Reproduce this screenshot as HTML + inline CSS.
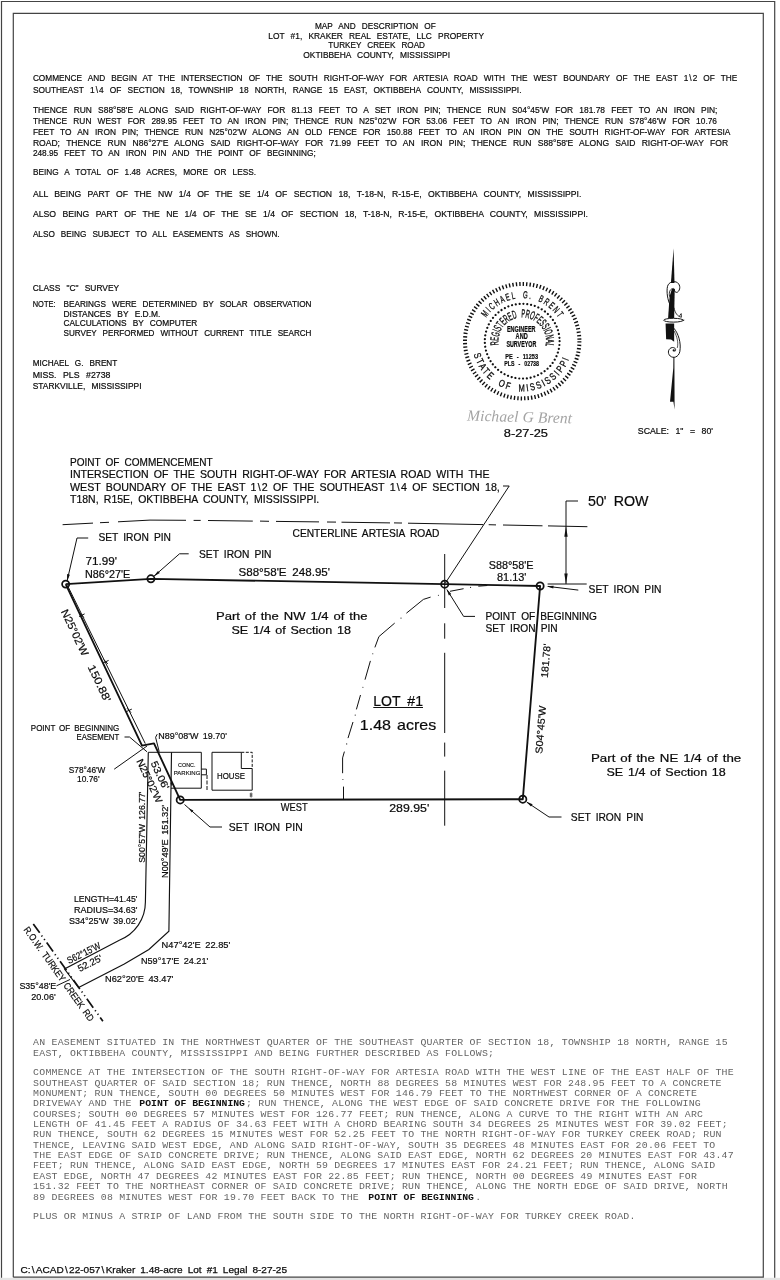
<!DOCTYPE html>
<html lang="en"><head><meta charset="utf-8"><title>Map and Description of Lot #1, Kraker Real Estate, LLC Property</title>
<style>
html,body{margin:0;padding:0;background:#fff;}
body{width:780px;height:1280px;overflow:hidden;}
svg{display:block;filter:grayscale(1);}
text{white-space:pre;}
.c{font-family:"Liberation Sans", sans-serif;fill:#0a0a0a;word-spacing:0.46em;stroke:#0a0a0a;stroke-width:0.2px;}
.m{font-family:"Liberation Mono", monospace;fill:#646464;}
.c2{word-spacing:0.22em;}
.c3{word-spacing:0.1em;}
.mb{font-family:"Liberation Mono", monospace;fill:#111;font-weight:bold;}
.s{font-family:"Liberation Serif", serif;fill:#111;}
</style></head><body>
<svg width="780" height="1280" viewBox="0 0 780 1280">
<rect x="0" y="0" width="780" height="1280" fill="#fff"/>
<!-- sheet borders -->
<rect x="0" y="1277.8" width="780" height="2.2" fill="#e4e4e4"/>
<path d="M1.5 1277.8 L1.5 1.5 L774.7 1.5 L774.7 1277.8" fill="none" stroke="#444" stroke-width="1.20"/>
<path d="M13.3 1277.2 L13.3 13.3 L763.3 13.3 L763.3 1277.2 L13.3 1277.2" fill="none" stroke="#444" stroke-width="1.20"/>
<!-- title block -->
<text class="c" x="315.0" y="28.7" font-size="9.60" textLength="120.7" lengthAdjust="spacingAndGlyphs">MAP AND DESCRIPTION OF</text>
<text class="c" x="268.3" y="38.6" font-size="9.60" textLength="215.7" lengthAdjust="spacingAndGlyphs">LOT #1, KRAKER REAL ESTATE, LLC PROPERTY</text>
<text class="c" x="328.3" y="48.3" font-size="9.60" textLength="96.7" lengthAdjust="spacingAndGlyphs">TURKEY CREEK ROAD</text>
<text class="c" x="303.3" y="58.0" font-size="9.60" textLength="146.7" lengthAdjust="spacingAndGlyphs">OKTIBBEHA COUNTY, MISSISSIPPI</text>
<!-- legal description -->
<text class="c" x="32.9" y="81.1" font-size="9.60" textLength="704.4" lengthAdjust="spacingAndGlyphs">COMMENCE AND BEGIN AT THE INTERSECTION OF THE SOUTH RIGHT-OF-WAY FOR ARTESIA ROAD WITH THE WEST BOUNDARY OF THE EAST 1<tspan dx="1.2">\</tspan><tspan dx="1.2">2</tspan> OF THE</text>
<text class="c" x="32.9" y="92.6" font-size="9.60" textLength="488.6" lengthAdjust="spacingAndGlyphs">SOUTHEAST 1<tspan dx="1.2">\</tspan><tspan dx="1.2">4</tspan> OF SECTION 18, TOWNSHIP 18 NORTH, RANGE 15 EAST, OKTIBBEHA COUNTY, MISSISSIPPI.</text>
<text class="c" x="32.9" y="113.4" font-size="9.60" textLength="684.5" lengthAdjust="spacingAndGlyphs">THENCE RUN S88°58'E ALONG SAID RIGHT-OF-WAY FOR 81.13 FEET TO A SET IRON PIN; THENCE RUN S04°45'W FOR 181.78 FEET TO AN IRON PIN;</text>
<text class="c" x="32.9" y="124.2" font-size="9.60" textLength="684.1" lengthAdjust="spacingAndGlyphs">THENCE RUN WEST FOR 289.95 FEET TO AN IRON PIN; THENCE RUN N25°02'W FOR 53.06 FEET TO AN IRON PIN; THENCE RUN S78°46'W FOR 10.76</text>
<text class="c" x="32.9" y="134.9" font-size="9.60" textLength="697.5" lengthAdjust="spacingAndGlyphs">FEET TO AN IRON PIN; THENCE RUN N25°02'W ALONG AN OLD FENCE FOR 150.88 FEET TO AN IRON PIN ON THE SOUTH RIGHT-OF-WAY FOR ARTESIA</text>
<text class="c" x="32.9" y="145.8" font-size="9.60" textLength="695.2" lengthAdjust="spacingAndGlyphs">ROAD; THENCE RUN N86°27'E ALONG SAID RIGHT-OF-WAY FOR 71.99 FEET TO AN IRON PIN; THENCE RUN S88°58'E ALONG SAID RIGHT-OF-WAY FOR</text>
<text class="c" x="32.9" y="156.2" font-size="9.60" textLength="282.8" lengthAdjust="spacingAndGlyphs">248.95 FEET TO AN IRON PIN AND THE POINT OF BEGINNING;</text>
<text class="c" x="32.9" y="175.4" font-size="9.60" textLength="223.1" lengthAdjust="spacingAndGlyphs">BEING A TOTAL OF 1.48 ACRES, MORE OR LESS.</text>
<text class="c" x="32.9" y="196.6" font-size="9.60" textLength="548.5" lengthAdjust="spacingAndGlyphs">ALL BEING PART OF THE NW 1/4 OF THE SE 1/4 OF SECTION 18, T-18-N, R-15-E, OKTIBBEHA COUNTY, MISSISSIPPI.</text>
<text class="c" x="32.9" y="216.9" font-size="9.60" textLength="555.1" lengthAdjust="spacingAndGlyphs">ALSO BEING PART OF THE NE 1/4 OF THE SE 1/4 OF SECTION 18, T-18-N, R-15-E, OKTIBBEHA COUNTY, MISSISSIPPI.</text>
<text class="c" x="32.9" y="236.9" font-size="9.60" textLength="246.7" lengthAdjust="spacingAndGlyphs">ALSO BEING SUBJECT TO ALL EASEMENTS AS SHOWN.</text>
<!-- survey notes -->
<text class="c" x="32.7" y="291.2" font-size="8.80" textLength="86.5" lengthAdjust="spacingAndGlyphs">CLASS "C" SURVEY</text>
<text class="c" x="32.7" y="306.5" font-size="8.80" textLength="22.8" lengthAdjust="spacingAndGlyphs">NOTE:</text>
<text class="c" x="63.5" y="306.5" font-size="8.80" textLength="248.0" lengthAdjust="spacingAndGlyphs">BEARINGS WERE DETERMINED BY SOLAR OBSERVATION</text>
<text class="c" x="63.5" y="316.5" font-size="8.80" textLength="96.9" lengthAdjust="spacingAndGlyphs">DISTANCES BY E.D.M.</text>
<text class="c" x="63.5" y="326.2" font-size="8.80" textLength="133.8" lengthAdjust="spacingAndGlyphs">CALCULATIONS BY COMPUTER</text>
<text class="c" x="63.5" y="335.8" font-size="8.80" textLength="248.0" lengthAdjust="spacingAndGlyphs">SURVEY PERFORMED WITHOUT CURRENT TITLE SEARCH</text>
<text class="c" x="32.7" y="366.2" font-size="8.80" textLength="84.6" lengthAdjust="spacingAndGlyphs">MICHAEL G. BRENT</text>
<text class="c" x="32.7" y="377.7" font-size="8.80" textLength="77.7" lengthAdjust="spacingAndGlyphs">MISS. PLS #2738</text>
<text class="c" x="32.7" y="389.2" font-size="8.80" textLength="108.8" lengthAdjust="spacingAndGlyphs">STARKVILLE, MISSISSIPPI</text>
<!-- surveyor seal -->
<circle cx="522.2" cy="341.2" r="57.20" fill="none" stroke="#111" stroke-width="4.00" stroke-dasharray="1.4 2.0558"/>
<circle cx="522.2" cy="341.2" r="37.40" fill="none" stroke="#111" stroke-width="2.20" stroke-dasharray="0.01 3.8423" stroke-linecap="round"/>
<defs>
<path id="sealTop" d="M486.14 317.78 A43.00 43.00 0 0 1 558.86 318.73" fill="none"/>
<path id="sealBot" d="M473.71 354.19 A50.20 50.20 0 0 0 569.67 357.54" fill="none"/>
<path id="sealIn" d="M498.69 344.92 A23.80 23.80 0 1 1 545.52 345.94" fill="none"/>
</defs>
<text class="c" font-size="10" fill="#111" style="stroke:#111;stroke-width:0.3px" letter-spacing="2.5"><textPath href="#sealTop" textLength="86.7" lengthAdjust="spacingAndGlyphs">MICHAEL G. BRENT</textPath></text>
<text class="c" font-size="10" fill="#111" style="stroke:#111;stroke-width:0.3px" letter-spacing="2.5"><textPath href="#sealBot" textLength="127.9" lengthAdjust="spacingAndGlyphs">STATE OF MISSISSIPPI</textPath></text>
<text class="c" font-size="11.6" fill="#111" style="stroke:#111;stroke-width:0.35px"><textPath href="#sealIn" textLength="83.3" lengthAdjust="spacingAndGlyphs">REGISTERED PROFESSIONAL</textPath></text>
<text class="c" x="506.9" y="332.1" font-size="8.4" font-weight="bold" textLength="28.6" lengthAdjust="spacingAndGlyphs" fill="#111">ENGINEER</text>
<text class="c" x="515.6" y="339.3" font-size="8.4" font-weight="bold" textLength="12.1" lengthAdjust="spacingAndGlyphs" fill="#111">AND</text>
<text class="c" x="506.4" y="346.8" font-size="8.4" font-weight="bold" textLength="29.9" lengthAdjust="spacingAndGlyphs" fill="#111">SURVEYOR</text>
<text class="c" x="505.2" y="359.0" font-size="8.0" font-weight="bold" textLength="32.8" lengthAdjust="spacingAndGlyphs" fill="#111">PE - 11253</text>
<text class="c" x="504.3" y="366.2" font-size="8.0" font-weight="bold" textLength="34.7" lengthAdjust="spacingAndGlyphs" fill="#111">PLS - 02738</text>
<text x="467" y="422.0" font-family='"Liberation Serif", serif' font-style="italic" font-size="15.5" fill="#a4a4a4" textLength="105" lengthAdjust="spacing" transform="rotate(1.5 520 420)">Michael G Brent</text>
<text class="c" x="503.8" y="437.4" font-size="10.40" textLength="44.2" lengthAdjust="spacingAndGlyphs">8-27-25</text>
<text class="c" x="637.8" y="433.8" font-size="9.00" textLength="75.2" lengthAdjust="spacingAndGlyphs">SCALE: 1" = 80'</text>
<!-- north arrow -->
<path d="M673.6 248.2 L674.5 283 L670.9 283 Z" fill="#111"/>
<path d="M673.4 357 L674.4 357 L674.6 409.6 L673.4 401.8 L670.0 401.8 L673.3 368 Z" fill="#111"/>
<g transform="translate(655 275) scale(0.07042)" stroke-linejoin="round" stroke-linecap="round">
<path d="M240 200 L280 196 L272 610 L186 610 L208 300 Z" fill="#111"/>
<path d="M215 425 C180 360 160 240 178 160 C195 100 270 75 320 110 C365 145 360 215 320 243 C295 255 272 240 276 208" fill="none" stroke="#111" stroke-width="14"/>
<path d="M205 300 C195 240 215 190 262 190" fill="none" stroke="#111" stroke-width="12"/>
<path d="M270 470 C285 540 320 590 375 600 L372 548 L352 575" fill="none" stroke="#111" stroke-width="12"/>
<ellipse cx="265" cy="642" rx="142" ry="27" fill="#fff" stroke="#111" stroke-width="14"/>
<path d="M150 688 L272 690 L272 948 L228 916 L158 912 Z" fill="#111"/>
<path d="M272 760 C330 830 375 960 352 1090 C335 1165 262 1190 215 1150 C170 1105 190 1040 245 1030 C290 1028 305 1060 285 1082" fill="none" stroke="#111" stroke-width="14"/>
<path d="M274 800 C315 880 335 960 318 1030" fill="none" stroke="#111" stroke-width="10"/>
<circle cx="266" cy="1072" r="16" fill="#111"/>
</g>
<!-- plat map: point of commencement note -->
<text class="c c2" x="70.0" y="465.8" font-size="10.40" textLength="142.7" lengthAdjust="spacingAndGlyphs">POINT OF COMMENCEMENT</text>
<text class="c c2" x="70.0" y="477.8" font-size="10.40" textLength="419.5" lengthAdjust="spacingAndGlyphs">INTERSECTION OF THE SOUTH RIGHT-OF-WAY FOR ARTESIA ROAD WITH THE</text>
<text class="c c2" x="70.0" y="490.6" font-size="10.40" textLength="429.8" lengthAdjust="spacingAndGlyphs">WEST BOUNDARY OF THE EAST 1<tspan dx="1.2">\</tspan><tspan dx="1.2">2</tspan> OF THE SOUTHEAST 1<tspan dx="1.2">\</tspan><tspan dx="1.2">4</tspan> OF SECTION 18,</text>
<text class="c c2" x="70.0" y="503.0" font-size="10.40" textLength="249.3" lengthAdjust="spacingAndGlyphs">T18N, R15E, OKTIBBEHA COUNTY, MISSISSIPPI.</text>
<!-- centerline Artesia Road -->
<path d="M62.6 524.7 L93.0 523.1" fill="none" stroke="#111" stroke-width="1.00"/>
<path d="M100.0 522.7 L109.0 522.3" fill="none" stroke="#111" stroke-width="1.00"/>
<path d="M118.0 521.8 L150.0 520.1 L186.0 520.3" fill="none" stroke="#111" stroke-width="1.00"/>
<path d="M193.6 520.4 L200.0 520.4 L200.7 520.4" fill="none" stroke="#111" stroke-width="1.00"/>
<path d="M208.0 520.5 L252.8 521.1" fill="none" stroke="#111" stroke-width="1.00"/>
<path d="M260.0 521.1 L269.0 521.3" fill="none" stroke="#111" stroke-width="1.00"/>
<path d="M276.0 521.4 L319.0 521.9" fill="none" stroke="#111" stroke-width="1.00"/>
<path d="M327.0 522.0 L336.0 522.1" fill="none" stroke="#111" stroke-width="1.00"/>
<path d="M341.5 522.2 L390.0 522.9" fill="none" stroke="#111" stroke-width="1.00"/>
<path d="M394.0 522.9 L400.0 523.0 L402.0 523.0" fill="none" stroke="#111" stroke-width="1.00"/>
<path d="M408.0 523.2 L483.0 524.6 L483.3 524.6" fill="none" stroke="#111" stroke-width="1.00"/>
<path d="M488.7 524.7 L496.0 524.9" fill="none" stroke="#111" stroke-width="1.00"/>
<path d="M503.0 525.0 L542.5 525.8" fill="none" stroke="#111" stroke-width="1.00"/>
<path d="M548.0 525.9 L587.4 526.7" fill="none" stroke="#111" stroke-width="1.00"/>
<text class="c c2" x="292.5" y="537.3" font-size="10.40" textLength="147.0" lengthAdjust="spacingAndGlyphs">CENTERLINE ARTESIA ROAD</text>
<!-- 50 ft ROW dimension -->
<path d="M578.0 501.0 L566.0 501.0 L566.0 584.0" fill="none" stroke="#111" stroke-width="1.00"/>
<path d="M566.0 526.3 L567.7 536.8 L564.3 536.8 Z" fill="#111"/>
<path d="M566.0 584.0 L564.3 573.5 L567.7 573.5 Z" fill="#111"/>
<path d="M547.6 584.0 L586.7 584.0" fill="none" stroke="#111" stroke-width="1.00"/>
<text class="c c2" x="588.0" y="505.5" font-size="14.60" textLength="60.5" lengthAdjust="spacingAndGlyphs">50' ROW</text>
<!-- commencement leader -->
<path d="M503.0 486.0 L509.2 486.0 L445.4 583.0" fill="none" stroke="#111" stroke-width="1.00"/>
<!-- lot boundary -->
<path d="M65.7 584.1 L150.9 578.8 L444.7 584.2 L540.1 586.0 L522.8 799.2 L180.2 799.9 L154.0 743.4 L142.0 745.6 L65.7 584.1" fill="none" stroke="#111" stroke-width="1.85" stroke-linejoin="round"/>
<circle cx="65.7" cy="584.1" r="3.60" fill="none" stroke="#111" stroke-width="1.75"/>
<circle cx="150.9" cy="578.8" r="3.60" fill="none" stroke="#111" stroke-width="1.75"/>
<circle cx="444.7" cy="584.2" r="3.60" fill="none" stroke="#111" stroke-width="1.75"/>
<circle cx="540.1" cy="586.0" r="3.60" fill="none" stroke="#111" stroke-width="1.75"/>
<circle cx="522.8" cy="799.2" r="3.60" fill="none" stroke="#111" stroke-width="1.75"/>
<circle cx="180.2" cy="799.9" r="3.60" fill="none" stroke="#111" stroke-width="1.75"/>
<path d="M67.5 585.5 L145.3 743.6" fill="none" stroke="#111" stroke-width="1.00"/>
<path d="M79.0 616.5 L84.6 613.9" fill="none" stroke="#111" stroke-width="1.00"/>
<path d="M79.8 613.0 L83.8 617.4" fill="none" stroke="#111" stroke-width="1.00"/>
<path d="M103.0 663.0 L108.6 660.4" fill="none" stroke="#111" stroke-width="1.00"/>
<path d="M103.8 659.5 L107.8 663.9" fill="none" stroke="#111" stroke-width="1.00"/>
<path d="M126.2 711.7 L131.8 709.1" fill="none" stroke="#111" stroke-width="1.00"/>
<path d="M127.0 708.2 L131.0 712.6" fill="none" stroke="#111" stroke-width="1.00"/>
<!-- section line through POB -->
<path d="M444.7 554.0 L444.7 608.0" fill="none" stroke="#111" stroke-width="1.00"/>
<path d="M444.7 623.3 L444.7 638.7" fill="none" stroke="#111" stroke-width="1.00"/>
<path d="M444.7 652.8 L444.7 733.0" fill="none" stroke="#111" stroke-width="1.00"/>
<path d="M444.7 742.6 L444.7 756.6" fill="none" stroke="#111" stroke-width="1.00"/>
<path d="M444.7 770.7 L444.7 825.7" fill="none" stroke="#111" stroke-width="1.00"/>
<!-- dash-dot line inside lot -->
<path d="M487.3 585.5 L478.3 586.2" fill="none" stroke="#111" stroke-width="1.00"/>
<path d="M463.6 588.7 L450.0 591.3" fill="none" stroke="#111" stroke-width="1.00"/>
<path d="M430.6 597.1 L423.4 599.4 L406.4 613.2" fill="none" stroke="#111" stroke-width="1.00"/>
<path d="M394.7 623.1 L378.9 636.6 L374.9 647.4" fill="none" stroke="#111" stroke-width="1.00"/>
<path d="M370.4 660.9 L365.0 679.7" fill="none" stroke="#111" stroke-width="1.00"/>
<path d="M360.5 695.0 L356.4 709.4" fill="none" stroke="#111" stroke-width="1.00"/>
<path d="M353.0 722.0 L348.0 738.1" fill="none" stroke="#111" stroke-width="1.00"/>
<path d="M344.4 751.6 L342.6 757.9 L342.6 773.2" fill="none" stroke="#111" stroke-width="1.00"/>
<path d="M343.5 786.6 L343.5 799.2" fill="none" stroke="#111" stroke-width="1.00"/>
<circle cx="470.6" cy="587.4" r="0.55" fill="#111" stroke="none" stroke-width="0.00"/>
<circle cx="438.4" cy="595.3" r="0.55" fill="#111" stroke="none" stroke-width="0.00"/>
<circle cx="401.0" cy="618.1" r="0.55" fill="#111" stroke="none" stroke-width="0.00"/>
<circle cx="372.8" cy="653.7" r="0.55" fill="#111" stroke="none" stroke-width="0.00"/>
<circle cx="362.9" cy="687.3" r="0.55" fill="#111" stroke="none" stroke-width="0.00"/>
<circle cx="355.2" cy="715.1" r="0.55" fill="#111" stroke="none" stroke-width="0.00"/>
<circle cx="346.7" cy="743.9" r="0.55" fill="#111" stroke="none" stroke-width="0.00"/>
<circle cx="342.9" cy="779.5" r="0.55" fill="#111" stroke="none" stroke-width="0.00"/>
<!-- iron pin labels and leaders -->
<text class="c c2" x="98.4" y="540.8" font-size="10.40" textLength="72.6" lengthAdjust="spacingAndGlyphs">SET IRON PIN</text>
<path d="M88.2 538.0 L77.0 538.0 L67.2 580.5" fill="none" stroke="#111" stroke-width="1.00"/>
<path d="M67.0 581.2 L67.1 574.1 L69.9 574.7 Z" fill="#111"/>
<text class="c c2" x="199.0" y="557.5" font-size="10.40" textLength="72.5" lengthAdjust="spacingAndGlyphs">SET IRON PIN</text>
<path d="M188.7 553.8 L179.5 553.8 L154.0 576.2" fill="none" stroke="#111" stroke-width="1.00"/>
<path d="M153.6 576.5 L158.0 570.9 L159.8 573.0 Z" fill="#111"/>
<text class="c c2" x="588.6" y="592.7" font-size="10.40" textLength="72.9" lengthAdjust="spacingAndGlyphs">SET IRON PIN</text>
<path d="M578.3 590.1 L548.0 586.4" fill="none" stroke="#111" stroke-width="1.00"/>
<path d="M546.5 586.2 L553.6 585.7 L553.3 588.5 Z" fill="#111"/>
<text class="c c2" x="570.8" y="821.0" font-size="10.40" textLength="72.6" lengthAdjust="spacingAndGlyphs">SET IRON PIN</text>
<path d="M561.5 817.0 L549.0 817.0 L527.0 802.3" fill="none" stroke="#111" stroke-width="1.00"/>
<path d="M526.0 801.6 L532.6 804.3 L531.0 806.6 Z" fill="#111"/>
<text class="c c2" x="228.8" y="830.8" font-size="10.40" textLength="73.9" lengthAdjust="spacingAndGlyphs">SET IRON PIN</text>
<path d="M222.0 827.0 L210.0 827.0 L184.5 804.5" fill="none" stroke="#111" stroke-width="1.00"/>
<path d="M188.8 808.3 L193.4 810.6 L191.7 812.6 Z" fill="#111"/>
<text class="c c2" x="485.4" y="619.5" font-size="10.40" textLength="111.6" lengthAdjust="spacingAndGlyphs">POINT OF BEGINNING</text>
<text class="c c2" x="485.4" y="631.5" font-size="10.40" textLength="72.3" lengthAdjust="spacingAndGlyphs">SET IRON PIN</text>
<path d="M475.0 616.4 L463.6 616.4 L447.0 589.8" fill="none" stroke="#111" stroke-width="1.00"/>
<path d="M446.4 588.7 L451.2 593.9 L448.9 595.4 Z" fill="#111"/>
<!-- bearings and distances -->
<text class="c c2" x="85.5" y="564.8" font-size="10.40" textLength="31.5" lengthAdjust="spacingAndGlyphs">71.99'</text>
<text class="c c2" x="85.0" y="578.0" font-size="10.40" textLength="45.3" lengthAdjust="spacingAndGlyphs">N86°27'E</text>
<text class="c c2" x="238.5" y="576.0" font-size="10.40" textLength="91.5" lengthAdjust="spacingAndGlyphs">S88°58'E 248.95'</text>
<text class="c c2" x="488.7" y="568.7" font-size="10.40" textLength="44.9" lengthAdjust="spacingAndGlyphs">S88°58'E</text>
<text class="c c2" x="497.0" y="581.0" font-size="10.40" textLength="29.4" lengthAdjust="spacingAndGlyphs">81.13'</text>
<text class="c c2" x="280.8" y="810.8" font-size="10.40" textLength="26.9" lengthAdjust="spacingAndGlyphs">WEST</text>
<text class="c c2" x="389.2" y="811.7" font-size="10.40" textLength="40.1" lengthAdjust="spacingAndGlyphs">289.95'</text>
<text class="c c2" x="0" y="0" font-size="10.00" textLength="34.0" lengthAdjust="spacingAndGlyphs" transform="translate(547.8 678.0) rotate(-85.35)">181.78'</text>
<text class="c c2" x="0" y="0" font-size="10.00" textLength="48.0" lengthAdjust="spacingAndGlyphs" transform="translate(542.2 754.0) rotate(-85.35)">S04°45'W</text>
<text class="c c2" x="0" y="0" font-size="10.80" textLength="50.0" lengthAdjust="spacingAndGlyphs" transform="translate(60.8 611.5) rotate(64.70)">N25°02'W</text>
<text class="c c2" x="0" y="0" font-size="10.80" textLength="39.8" lengthAdjust="spacingAndGlyphs" transform="translate(87.6 667.0) rotate(64.70)">150.88'</text>
<!-- lot labels -->
<text class="c c3" x="216.0" y="620.0" font-size="10.40" textLength="151.5" lengthAdjust="spacingAndGlyphs">Part of the NW 1/4 of the</text>
<text class="c c3" x="231.5" y="633.5" font-size="10.40" textLength="119.5" lengthAdjust="spacingAndGlyphs">SE 1/4 of Section 18</text>
<text class="c c3" x="591.0" y="761.5" font-size="10.40" textLength="150.2" lengthAdjust="spacingAndGlyphs">Part of the NE 1/4 of the</text>
<text class="c c3" x="606.5" y="775.7" font-size="10.40" textLength="119.3" lengthAdjust="spacingAndGlyphs">SE 1/4 of Section 18</text>
<text class="c c2" x="373.3" y="705.9" font-size="14.80" textLength="49.7" lengthAdjust="spacingAndGlyphs">LOT #1</text>
<path d="M373.3 707.5 L423.0 707.5" fill="none" stroke="#111" stroke-width="1.00"/>
<text class="c c3" x="359.8" y="729.6" font-size="14.80" textLength="76.4" lengthAdjust="spacingAndGlyphs">1.48 acres</text>
<!-- house, parking, easement -->
<path d="M148.3 752.3 L145.4 902.0 A40.9 40.9 0 0 1 119.3 940.2 L64.5 969.0 L78.6 987.6 L124.3 964.1 L148.9 949.5 L168.9 931.3 L171.5 752.3" fill="none" stroke="#111" stroke-width="1.15"/>
<path d="M148.3 752.3 L201.3 752.3" fill="none" stroke="#111" stroke-width="1.00"/>
<path d="M171.0 788.2 L201.3 788.2 L201.3 752.3" fill="none" stroke="#111" stroke-width="1.00"/>
<path d="M201.3 769.1 L206.4 769.1 L206.4 774.8 L201.3 774.8" fill="none" stroke="#111" stroke-width="1.00"/>
<path d="M207.0 775.0 L207.0 790.2" fill="none" stroke="#111" stroke-width="1.00" stroke-dasharray="4 1.5"/>
<path d="M241.3 752.3 L212.0 752.3 L212.0 790.2 L252.2 790.2 L252.2 768.5" fill="none" stroke="#111" stroke-width="1.00"/>
<path d="M241.3 752.3 L241.3 768.5 L252.2 768.5" fill="none" stroke="#111" stroke-width="1.00"/>
<path d="M241.3 752.3 L252.2 752.3 L252.2 768.5" fill="none" stroke="#111" stroke-width="1.00" stroke-dasharray="3 1.5"/>
<circle cx="251.1" cy="794.0" r="1.00" fill="none" stroke="#111" stroke-width="0.70"/>
<circle cx="251.1" cy="796.0" r="1.00" fill="none" stroke="#111" stroke-width="0.70"/>
<text class="c" x="178.0" y="766.5" font-size="6.2" style="stroke:#1a1a1a;stroke-width:0.15px" textLength="17.5" lengthAdjust="spacingAndGlyphs">CONC.</text>
<text class="c" x="173.8" y="775.0" font-size="6.2" style="stroke:#1a1a1a;stroke-width:0.15px" textLength="26.5" lengthAdjust="spacingAndGlyphs">PARKING</text>
<text class="c c2" x="217.0" y="779.0" font-size="9.60" textLength="28.0" lengthAdjust="spacingAndGlyphs">HOUSE</text>
<path d="M157.2 734.2 L155.6 737.3 L159.2 751.7" fill="none" stroke="#111" stroke-width="1.00"/>
<text class="c c2" x="158.2" y="739.4" font-size="9.80" textLength="68.8" lengthAdjust="spacingAndGlyphs">N89°08'W 19.70'</text>
<text class="c c2" x="30.8" y="730.8" font-size="9.60" textLength="88.4" lengthAdjust="spacingAndGlyphs">POINT OF BEGINNING</text>
<text class="c c2" x="76.5" y="740.4" font-size="9.60" textLength="42.7" lengthAdjust="spacingAndGlyphs">EASEMENT</text>
<path d="M124.5 737.0 L129.5 737.0 L147.0 751.8" fill="none" stroke="#111" stroke-width="1.00"/>
<text class="c c2" x="68.8" y="773.0" font-size="9.60" textLength="36.6" lengthAdjust="spacingAndGlyphs">S78°46'W</text>
<text class="c c2" x="77.0" y="781.6" font-size="9.60" textLength="22.6" lengthAdjust="spacingAndGlyphs">10.76'</text>
<path d="M114.2 769.2 L147.0 746.0" fill="none" stroke="#111" stroke-width="1.00"/>
<text class="c c2" x="0" y="0" font-size="10.00" textLength="30.3" lengthAdjust="spacingAndGlyphs" transform="translate(150.4 763.0) rotate(64.70)">53.06'</text>
<text class="c c2" x="0" y="0" font-size="10.00" textLength="47.6" lengthAdjust="spacingAndGlyphs" transform="translate(136.3 760.9) rotate(64.70)">N25°02'W</text>
<path d="M171.3 786.5 L170.3 782.5 L172.3 782.5 Z" fill="#111"/>
<text class="c c2" x="0" y="0" font-size="9.60" textLength="71.2" lengthAdjust="spacingAndGlyphs" transform="translate(144.6 862.7) rotate(-90.00)">S00°57'W 126.77'</text>
<text class="c c2" x="0" y="0" font-size="9.60" textLength="73.0" lengthAdjust="spacingAndGlyphs" transform="translate(167.6 878.0) rotate(-90.00)">N00°49'E 151.32'</text>
<text class="c c2" x="74.0" y="902.4" font-size="9.60" textLength="63.4" lengthAdjust="spacingAndGlyphs">LENGTH=41.45'</text>
<text class="c c2" x="74.0" y="913.1" font-size="9.60" textLength="63.4" lengthAdjust="spacingAndGlyphs">RADIUS=34.63'</text>
<text class="c c2" x="69.0" y="923.9" font-size="9.60" textLength="68.4" lengthAdjust="spacingAndGlyphs">S34°25'W 39.02'</text>
<text class="c c2" x="161.6" y="947.6" font-size="9.60" textLength="68.7" lengthAdjust="spacingAndGlyphs">N47°42'E 22.85'</text>
<text class="c c2" x="141.0" y="963.7" font-size="9.60" textLength="67.2" lengthAdjust="spacingAndGlyphs">N59°17'E 24.21'</text>
<text class="c c2" x="105.0" y="982.4" font-size="9.60" textLength="68.4" lengthAdjust="spacingAndGlyphs">N62°20'E 43.47'</text>
<text class="c c2" x="19.4" y="988.8" font-size="9.60" textLength="36.9" lengthAdjust="spacingAndGlyphs">S35°48'E</text>
<text class="c c2" x="31.2" y="1000.0" font-size="9.60" textLength="24.5" lengthAdjust="spacingAndGlyphs">20.06'</text>
<path d="M56.5 985.8 L70.0 979.5" fill="none" stroke="#111" stroke-width="1.00"/>
<text class="c c2" x="0" y="0" font-size="9.60" textLength="36.2" lengthAdjust="spacingAndGlyphs" transform="translate(69.0 964.0) rotate(-26.60)">S62°15'W</text>
<text class="c c2" x="0" y="0" font-size="9.60" textLength="26.0" lengthAdjust="spacingAndGlyphs" transform="translate(79.8 972.0) rotate(-26.60)">52.25'</text>
<!-- Turkey Creek Road right-of-way -->
<path d="M33.3 923.9 L102.9 1021.2" fill="none" stroke="#111" stroke-width="1.70" stroke-dasharray="11 3.2 1.2 3.2 1.2 3.2"/>
<text class="c c2" x="0" y="0" font-size="9.60" textLength="113.4" lengthAdjust="spacingAndGlyphs" transform="translate(23.3 929.8) rotate(54.50)">R.O.W. TURKEY CREEK RD</text>
<!-- easement description -->
<text class="m" x="33.1" y="1045.2" font-size="9.90" textLength="694.5" lengthAdjust="spacing">AN EASEMENT SITUATED IN THE NORTHWEST QUARTER OF THE SOUTHEAST QUARTER OF SECTION 18, TOWNSHIP 18 NORTH, RANGE 15</text>
<text class="m" x="33.1" y="1055.5" font-size="9.90" textLength="460.9" lengthAdjust="spacing">EAST, OKTIBBEHA COUNTY, MISSISSIPPI AND BEING FURTHER DESCRIBED AS FOLLOWS;</text>
<text class="m" x="33.1" y="1075.3" font-size="9.90" textLength="700.6" lengthAdjust="spacing">COMMENCE AT THE INTERSECTION OF THE SOUTH RIGHT-OF-WAY FOR ARTESIA ROAD WITH THE WEST LINE OF THE EAST HALF OF THE</text>
<text class="m" x="33.1" y="1085.8" font-size="9.90" textLength="688.4" lengthAdjust="spacing">SOUTHEAST QUARTER OF SAID SECTION 18; RUN THENCE, NORTH 88 DEGREES 58 MINUTES WEST FOR 248.95 FEET TO A CONCRETE</text>
<text class="m" x="33.1" y="1095.9" font-size="9.90" textLength="663.8" lengthAdjust="spacing">MONUMENT; RUN THENCE, SOUTH 00 DEGREES 50 MINUTES WEST FOR 146.79 FEET TO THE NORTHWEST CORNER OF A CONCRETE</text>
<text class="m" x="33.1" y="1106.3" font-size="9.90" textLength="98.3" lengthAdjust="spacing">DRIVEWAY AND THE</text>
<text class="mb" x="139.3" y="1106.3" font-size="9.90" textLength="105.7" lengthAdjust="spacingAndGlyphs">POINT OF BEGINNING</text>
<text class="m" x="246.0" y="1106.3" font-size="9.90" textLength="454.8" lengthAdjust="spacing">; RUN THENCE, ALONG THE WEST EDGE OF SAID CONCRETE DRIVE FOR THE FOLLOWING</text>
<text class="m" x="33.1" y="1116.7" font-size="9.90" textLength="669.9" lengthAdjust="spacing">COURSES; SOUTH 00 DEGREES 57 MINUTES WEST FOR 126.77 FEET; RUN THENCE, ALONG A CURVE TO THE RIGHT WITH AN ARC</text>
<text class="m" x="33.1" y="1126.9" font-size="9.90" textLength="694.5" lengthAdjust="spacing">LENGTH OF 41.45 FEET A RADIUS OF 34.63 FEET WITH A CHORD BEARING SOUTH 34 DEGREES 25 MINUTES WEST FOR 39.02 FEET;</text>
<text class="m" x="33.1" y="1137.3" font-size="9.90" textLength="688.4" lengthAdjust="spacing">RUN THENCE, SOUTH 62 DEGREES 15 MINUTES WEST FOR 52.25 FEET TO THE NORTH RIGHT-OF-WAY FOR TURKEY CREEK ROAD; RUN</text>
<text class="m" x="33.1" y="1147.7" font-size="9.90" textLength="682.2" lengthAdjust="spacing">THENCE, LEAVING SAID WEST EDGE, AND ALONG SAID RIGHT-OF-WAY, SOUTH 35 DEGREES 48 MINUTES EAST FOR 20.06 FEET TO</text>
<text class="m" x="33.1" y="1158.1" font-size="9.90" textLength="700.6" lengthAdjust="spacing">THE EAST EDGE OF SAID CONCRETE DRIVE; RUN THENCE, ALONG SAID EAST EDGE, NORTH 62 DEGREES 20 MINUTES EAST FOR 43.47</text>
<text class="m" x="33.1" y="1168.4" font-size="9.90" textLength="682.2" lengthAdjust="spacing">FEET; RUN THENCE, ALONG SAID EAST EDGE, NORTH 59 DEGREES 17 MINUTES EAST FOR 24.21 FEET; RUN THENCE, ALONG SAID</text>
<text class="m" x="33.1" y="1178.8" font-size="9.90" textLength="663.8" lengthAdjust="spacing">EAST EDGE, NORTH 47 DEGREES 42 MINUTES EAST FOR 22.85 FEET; RUN THENCE, NORTH 00 DEGREES 49 MINUTES EAST FOR</text>
<text class="m" x="33.1" y="1189.1" font-size="9.90" textLength="694.5" lengthAdjust="spacing">151.32 FEET TO THE NORTHEAST CORNER OF SAID CONCRETE DRIVE; RUN THENCE, ALONG THE NORTH EDGE OF SAID DRIVE, NORTH</text>
<text class="m" x="33.1" y="1199.5" font-size="9.90" textLength="325.7" lengthAdjust="spacing">89 DEGREES 08 MINUTES WEST FOR 19.70 FEET BACK TO THE</text>
<text class="mb" x="368.3" y="1199.5" font-size="9.90" textLength="105.7" lengthAdjust="spacingAndGlyphs">POINT OF BEGINNING</text>
<text class="m" x="475.2" y="1199.5" font-size="9.90" textLength="6.1" lengthAdjust="spacing">.</text>
<text class="m" x="33.1" y="1219.1" font-size="9.90" textLength="602.3" lengthAdjust="spacing">PLUS OR MINUS A STRIP OF LAND FROM THE SOUTH SIDE TO THE NORTH RIGHT-OF-WAY FOR TURKEY CREEK ROAD.</text>
<text class="c c2" x="20.5" y="1273.0" font-size="9.60" textLength="266.5" lengthAdjust="spacingAndGlyphs" fill="#111" style="stroke:#111;stroke-width:0.25px">C:<tspan dx="1.2">\</tspan><tspan dx="1.2">A</tspan>CAD<tspan dx="1.2">\</tspan><tspan dx="1.2">2</tspan>2-057<tspan dx="1.2">\</tspan><tspan dx="1.2">K</tspan>raker 1.48-acre Lot #1 Legal 8-27-25</text>
</svg>
</body></html>
